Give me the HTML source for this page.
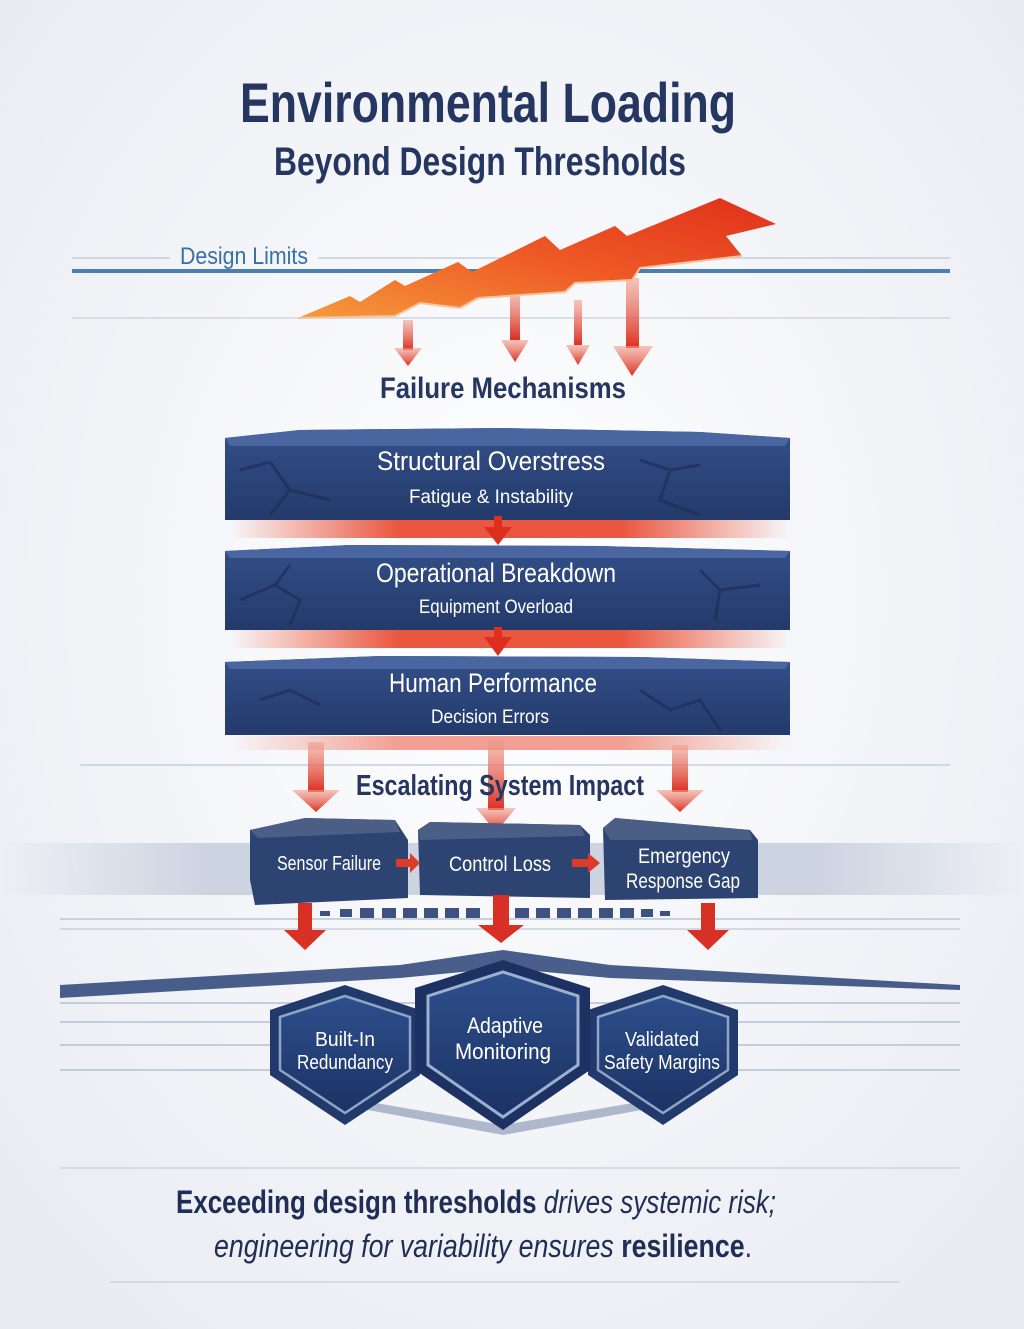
<!DOCTYPE html>
<html><head><meta charset="utf-8"><style>
html,body{margin:0;padding:0;width:1024px;height:1329px;overflow:hidden;background:#f4f5f9}
svg{display:block}
text{font-family:"Liberation Sans Narrow","Liberation Sans",sans-serif}
</style></head><body>
<svg width="1024" height="1329" viewBox="0 0 1024 1329">
<defs>
<radialGradient id="bg" cx="0.5" cy="0.45" r="0.7"><stop offset="0" stop-color="#ffffff"/><stop offset="1" stop-color="#e9ebf2"/></radialGradient>
<linearGradient id="bolt" x1="0" y1="1" x2="1" y2="0"><stop offset="0" stop-color="#f59a3c"/><stop offset="0.5" stop-color="#ee5a25"/><stop offset="1" stop-color="#e0301c"/></linearGradient>
<linearGradient id="arr" x1="0" y1="0" x2="0" y2="1"><stop offset="0" stop-color="#f0a090" stop-opacity="0.6"/><stop offset="1" stop-color="#dd2e20"/></linearGradient>
<linearGradient id="slab" x1="0" y1="0" x2="0" y2="1"><stop offset="0" stop-color="#34508a"/><stop offset="1" stop-color="#233a6a"/></linearGradient>
<linearGradient id="glow" x1="0" y1="0" x2="1" y2="0"><stop offset="0" stop-color="#e8442a" stop-opacity="0"/><stop offset="0.3" stop-color="#e8442a"/><stop offset="0.7" stop-color="#e8442a"/><stop offset="1" stop-color="#e8442a" stop-opacity="0"/></linearGradient>
<linearGradient id="band" x1="0" y1="0" x2="1" y2="0"><stop offset="0" stop-color="#c8cfdd" stop-opacity="0"/><stop offset="0.2" stop-color="#cdd4e1"/><stop offset="0.8" stop-color="#cdd4e1"/><stop offset="1" stop-color="#c8cfdd" stop-opacity="0"/></linearGradient>
<linearGradient id="sh" x1="0" y1="0" x2="0" y2="1"><stop offset="0" stop-color="#2e4f8c"/><stop offset="1" stop-color="#1b3264"/></linearGradient>
</defs>
<rect width="1024" height="1329" fill="url(#bg)"/>

<text x="488" y="122" text-anchor="middle" font-size="56" font-weight="bold" fill="#253660" textLength="496" lengthAdjust="spacingAndGlyphs">Environmental Loading</text>
<text x="480" y="175" text-anchor="middle" font-size="40" font-weight="bold" fill="#253660" textLength="412" lengthAdjust="spacingAndGlyphs">Beyond Design Thresholds</text>

<line x1="72" y1="258" x2="170" y2="258" stroke="#c5cede" stroke-width="1.5"/>
<line x1="318" y1="258" x2="950" y2="258" stroke="#c5cede" stroke-width="1.5"/>
<text x="180" y="264" font-size="24" fill="#3a6fa5" textLength="128" lengthAdjust="spacingAndGlyphs">Design Limits</text>
<rect x="72" y="269" width="878" height="4" fill="#4a7fb0"/>
<line x1="72" y1="318" x2="950" y2="318" stroke="#cfd5e2" stroke-width="1.5"/>

<g fill="url(#arr)">
<rect x="403" y="320" width="10" height="30"/><polygon points="394,348 422,348 408,366"/>
<rect x="510" y="290" width="10" height="50"/><polygon points="501,340 529,340 515,362"/>
<rect x="574" y="300" width="8" height="45"/><polygon points="566,345 590,345 578,365"/>
<rect x="626" y="278" width="13" height="70"/><polygon points="613,346 653,346 632,376"/>
</g>
<polygon fill="url(#bolt)" points="298,318 350,296 360,302 395,280 405,286 458,262 472,272 545,236 560,250 615,226 627,236 720,198 776,224 726,236 742,256 640,268 632,280 575,283 565,292 478,298 460,308 420,303 395,316"/>
<polyline fill="none" stroke="#f8c39a" stroke-width="2" points="298,318 395,316 420,303 460,308 478,298 565,292 575,283 632,280 640,268 742,256"/>

<text x="503" y="398" text-anchor="middle" font-size="30" font-weight="bold" fill="#253660" textLength="246" lengthAdjust="spacingAndGlyphs">Failure Mechanisms</text>

<rect x="230" y="518" width="560" height="20" fill="url(#glow)" opacity="0.9"/>
<rect x="230" y="628" width="560" height="20" fill="url(#glow)" opacity="0.9"/>
<rect x="230" y="736" width="560" height="14" fill="url(#glow)" opacity="0.5"/>

<g>
<polygon points="225,438 300,430 500,428 700,432 790,438 790,520 225,520" fill="url(#slab)"/>
<polygon points="225,438 300,430 500,428 700,432 790,438 785,446 230,446" fill="#4966a0"/>
<polygon points="225,551 350,545 600,546 790,551 790,630 225,630" fill="url(#slab)"/>
<polygon points="225,551 350,545 600,546 790,551 785,558 230,558" fill="#4966a0"/>
<polygon points="225,662 380,656 640,657 790,662 790,735 225,735" fill="url(#slab)"/>
<polygon points="225,662 380,656 640,657 790,662 785,669 230,669" fill="#4966a0"/>
<g stroke="#1c2f58" stroke-width="3" fill="none" opacity="0.7">
<path d="M240,470 L270,462 L290,490 L330,500 M290,490 L270,515"/>
<path d="M640,460 L670,470 L700,465 M670,470 L660,500 L700,515"/>
<path d="M240,600 L275,585 L300,600 L290,625 M275,585 L290,565"/>
<path d="M700,570 L720,590 L760,585 M720,590 L715,620"/>
<path d="M260,700 L290,690 L320,705 M640,690 L670,710 L700,700 L720,730"/>
</g>
</g>
<g fill="#fff" text-anchor="middle">
<text x="491" y="470" font-size="27" textLength="228" lengthAdjust="spacingAndGlyphs">Structural Overstress</text>
<text x="491" y="503" font-size="19" textLength="164" lengthAdjust="spacingAndGlyphs">Fatigue &amp; Instability</text>
<text x="496" y="582" font-size="27" textLength="240" lengthAdjust="spacingAndGlyphs">Operational Breakdown</text>
<text x="496" y="613" font-size="19" textLength="154" lengthAdjust="spacingAndGlyphs">Equipment Overload</text>
<text x="493" y="692" font-size="27" textLength="208" lengthAdjust="spacingAndGlyphs">Human Performance</text>
<text x="490" y="723" font-size="19" textLength="118" lengthAdjust="spacingAndGlyphs">Decision Errors</text>
</g>
<g fill="#dd2e20">
<rect x="494" y="516" width="8" height="12"/><polygon points="484,527 512,527 498,545"/>
<rect x="494" y="627" width="8" height="12"/><polygon points="484,637 512,637 498,656"/>
</g>

<line x1="80" y1="765" x2="950" y2="765" stroke="#c5cede" stroke-width="1.5"/>
<g fill="url(#arr)">
<rect x="308" y="742" width="16" height="50"/><polygon points="292,790 340,790 316,812"/>
<rect x="488" y="738" width="16" height="72"/><polygon points="476,808 516,808 496,832"/>
<rect x="672" y="745" width="16" height="47"/><polygon points="656,790 704,790 680,812"/>
</g>
<text x="500" y="795" text-anchor="middle" font-size="29" font-weight="bold" fill="#253660" textLength="288" lengthAdjust="spacingAndGlyphs">Escalating System Impact</text>

<rect x="0" y="843" width="1024" height="52" fill="url(#band)"/>
<rect x="60" y="918" width="900" height="2" fill="#c9d0de"/>
<rect x="60" y="928" width="900" height="2" fill="#d3d9e4"/>

<polygon points="250,830 305,818 395,820 408,840 408,898 255,905 250,880" fill="#2d4371"/>
<polygon points="250,830 305,818 395,820 400,832 258,838" fill="#4a5e86"/>
<polygon points="418,830 430,822 580,825 590,835 590,898 420,895" fill="#2d4371"/>
<polygon points="418,830 430,822 580,825 585,836 420,840" fill="#4a5e86"/>
<polygon points="603,828 615,818 750,830 758,840 758,898 605,900" fill="#2d4371"/>
<polygon points="603,828 615,818 750,830 752,840 610,840" fill="#4a5e86"/>
<g fill="#fff" text-anchor="middle">
<text x="329" y="870" font-size="20" textLength="104" lengthAdjust="spacingAndGlyphs">Sensor Failure</text>
<text x="500" y="871" font-size="21" textLength="102" lengthAdjust="spacingAndGlyphs">Control Loss</text>
<text x="684" y="863" font-size="21" textLength="92" lengthAdjust="spacingAndGlyphs">Emergency</text>
<text x="683" y="888" font-size="21" textLength="114" lengthAdjust="spacingAndGlyphs">Response Gap</text>
</g>
<g fill="#dd3a28">
<rect x="396" y="859" width="18" height="8"/><polygon points="410,853 420,863 410,873"/>
<rect x="572" y="859" width="20" height="8"/><polygon points="588,853 600,863 588,873"/>
</g>
<g fill="#3e5282">
<rect x="320" y="911" width="10" height="5"/><rect x="340" y="909" width="12" height="8"/><rect x="360" y="908" width="14" height="10"/><rect x="382" y="908" width="14" height="10"/><rect x="403" y="908" width="14" height="10"/><rect x="424" y="908" width="14" height="10"/><rect x="445" y="908" width="14" height="10"/><rect x="466" y="908" width="14" height="10"/><rect x="515" y="908" width="14" height="10"/><rect x="536" y="908" width="14" height="10"/><rect x="557" y="908" width="14" height="10"/><rect x="578" y="908" width="14" height="10"/><rect x="599" y="908" width="14" height="10"/><rect x="620" y="908" width="14" height="10"/><rect x="641" y="909" width="12" height="8"/><rect x="660" y="911" width="10" height="5"/>
</g>
<g fill="#d83024">
<rect x="298" y="903" width="14" height="30"/><polygon points="284,930 326,930 305,950"/>
<rect x="493" y="895" width="16" height="32"/><polygon points="478,925 524,925 501,943"/>
<rect x="701" y="903" width="14" height="30"/><polygon points="687,930 729,930 708,950"/>
</g>

<path d="M60,985 L400,965 L503,950 L610,965 L960,985 L960,990 L610,978 L503,968 L400,978 L60,998z" fill="#2a4377" opacity="0.85"/>
<g stroke="#c5ccda" stroke-width="2"><line x1="60" y1="1003" x2="960" y2="1003"/><line x1="60" y1="1022" x2="960" y2="1022"/><line x1="60" y1="1045" x2="960" y2="1045"/><line x1="60" y1="1070" x2="960" y2="1070"/></g>
<path d="M330,1095 L503,1125 L680,1095 L680,1103 L503,1135 L330,1103z" fill="#aeb8cc"/>

<g>
<path d="M270,1010 L345,985 L420,1010 L420,1075 L345,1125 L270,1075z" fill="#223a6b"/>
<path d="M280,1017 L345,996 L410,1017 L410,1070 L345,1113 L280,1070z" fill="url(#sh)" stroke="#8fa4c8" stroke-width="2.5"/>
<path d="M588,1010 L663,985 L738,1010 L738,1075 L663,1125 L588,1075z" fill="#223a6b"/>
<path d="M598,1017 L663,996 L728,1017 L728,1070 L663,1113 L598,1070z" fill="url(#sh)" stroke="#8fa4c8" stroke-width="2.5"/>
<path d="M415,988 L503,960 L590,988 L590,1070 L503,1130 L415,1070z" fill="#1d3262"/>
<path d="M428,996 L503,972 L578,996 L578,1065 L503,1117 L428,1065z" fill="url(#sh)" stroke="#9cb0d2" stroke-width="3"/>
</g>
<g fill="#fff" text-anchor="middle">
<text x="345" y="1046" font-size="20" textLength="60" lengthAdjust="spacingAndGlyphs">Built-In</text>
<text x="345" y="1069" font-size="20" textLength="96" lengthAdjust="spacingAndGlyphs">Redundancy</text>
<text x="505" y="1033" font-size="22" textLength="76" lengthAdjust="spacingAndGlyphs">Adaptive</text>
<text x="503" y="1059" font-size="22" textLength="96" lengthAdjust="spacingAndGlyphs">Monitoring</text>
<text x="662" y="1046" font-size="20" textLength="74" lengthAdjust="spacingAndGlyphs">Validated</text>
<text x="662" y="1069" font-size="20" textLength="116" lengthAdjust="spacingAndGlyphs">Safety Margins</text>
</g>

<line x1="60" y1="1168" x2="960" y2="1168" stroke="#cdd3df" stroke-width="1.5"/>
<text x="176" y="1213" font-size="32" fill="#1f2e55" textLength="600" lengthAdjust="spacingAndGlyphs"><tspan font-weight="bold">Exceeding design thresholds</tspan><tspan font-style="italic"> drives systemic risk;</tspan></text>
<text x="214" y="1257" font-size="32" fill="#1f2e55" textLength="538" lengthAdjust="spacingAndGlyphs"><tspan font-style="italic">engineering for variability ensures </tspan><tspan font-weight="bold">resilience</tspan><tspan>.</tspan></text>
<line x1="110" y1="1282" x2="900" y2="1282" stroke="#cdd3df" stroke-width="1.5"/>
</svg>
</body></html>
